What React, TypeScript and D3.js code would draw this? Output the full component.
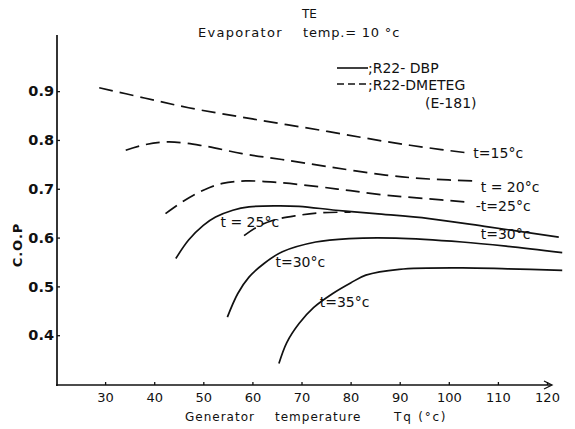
import React, { useEffect, useRef } from 'react';
import * as d3 from 'd3';

// generator temperature (°C) and C.O.P, one pair of arrays per curve
// R22-DMETEG (E-181), dashed
const tgD15 = [28.8, 38, 47, 60, 75, 87, 95, 103.4];
const copD15 = [0.907, 0.886, 0.866, 0.843, 0.818, 0.797, 0.785, 0.774];
const tgD20 = [34.2, 38, 43, 50, 57.9, 66, 75.6, 87.1, 96, 105.5];
const copD20 = [0.779, 0.79, 0.796, 0.788, 0.772, 0.76, 0.745, 0.728, 0.72, 0.716];
const tgD25 = [42.3, 46, 50, 53.9, 58.6, 65, 73.6, 80, 87.1, 95, 103.4];
const copD25 = [0.649, 0.675, 0.697, 0.711, 0.716, 0.713, 0.704, 0.696, 0.687, 0.68, 0.673];
const tgD30 = [58.3, 61, 64.4, 69, 74.2, 80];
const copD30 = [0.604, 0.622, 0.636, 0.645, 0.651, 0.652];
// R22-DBP, solid
const tgS25 = [44.4, 47, 50, 52.5, 56, 59.3, 65, 69.5, 77, 85, 96, 108, 122.4];
const copS25 = [0.557, 0.595, 0.625, 0.642, 0.656, 0.663, 0.665, 0.664, 0.656, 0.649, 0.639, 0.622, 0.601];
const tgS30 = [54.9, 57, 59.3, 62.5, 66.1, 72.9, 79.7, 89.2, 102.7, 112, 123.1];
const copS30 = [0.437, 0.485, 0.519, 0.548, 0.571, 0.591, 0.598, 0.599, 0.591, 0.582, 0.569];
const tgS35 = [65.4, 67, 69.5, 72.5, 76.3, 80, 83.1, 89.9, 102.7, 112, 123.1];
const copS35 = [0.342, 0.385, 0.424, 0.457, 0.485, 0.507, 0.523, 0.535, 0.538, 0.536, 0.533];

const xTicks = [30, 40, 50, 60, 70, 80, 90, 100, 110, 120];
const yTicks = [0.4, 0.5, 0.6, 0.7, 0.8, 0.9];

const curves = [
  { tg: tgD15, cop: copD15, dashed: true },
  { tg: tgD20, cop: copD20, dashed: true },
  { tg: tgD25, cop: copD25, dashed: true },
  { tg: tgD30, cop: copD30, dashed: true },
  { tg: tgS25, cop: copS25, dashed: false },
  { tg: tgS30, cop: copS30, dashed: false },
  { tg: tgS35, cop: copS35, dashed: false },
];

// curve labels, [text, Tg, COP]
const curveLabels: [string, number, number][] = [
  ['t=15°c', 105, 0.774],
  ['t = 20°c', 106.5, 0.704],
  ['-t=25°c', 105.5, 0.664],
  ['t=30°c', 106.5, 0.607],
  ['t = 25°c', 53.5, 0.632],
  ['t=30°c', 64.7, 0.55],
  ['t=35°c', 73.7, 0.467],
];

const FONT = '"DejaVu Sans", sans-serif';

export default function App() {
  const ref = useRef<SVGGElement>(null);

  useEffect(() => {
    const g = d3.select(ref.current);
    g.selectAll('*').remove();

    const x = d3.scaleLinear().domain([20.2, 120]).range([57, 547]);
    const y = d3.scaleLinear().domain([0.298, 1.015]).range([385, 35]);

    // axes
    const xa = g.append('g').attr('transform', 'translate(0,385)')
      .call(d3.axisBottom(x).tickValues(xTicks).tickSize(-3).tickPadding(8).tickFormat(d3.format('d')));
    xa.select('.domain').remove();
    xa.selectAll('text').attr('font-family', FONT).attr('font-size', 13).attr('fill', '#111');
    xa.selectAll('line').attr('stroke', '#111').attr('stroke-width', 1.3);

    const ya = g.append('g').attr('transform', 'translate(57,0)')
      .call(d3.axisLeft(y).tickValues(yTicks).tickSize(-3).tickPadding(3).tickFormat(d3.format('.1f')));
    ya.select('.domain').remove();
    ya.selectAll('text').attr('font-family', FONT).attr('font-size', 14.5).attr('font-weight', 'bold').attr('fill', '#111');
    ya.selectAll('line').attr('stroke', '#111').attr('stroke-width', 1.3);

    g.append('line').attr('x1', 57).attr('x2', 57).attr('y1', y.range()[1]).attr('y2', 386)
      .attr('stroke', '#111').attr('stroke-width', 1.7);
    g.append('line').attr('x1', 56).attr('x2', 551).attr('y1', 385).attr('y2', 385)
      .attr('stroke', '#111').attr('stroke-width', 1.7);
    g.append('path').attr('d', 'M544,381 L552,385 L544,389').attr('fill', 'none')
      .attr('stroke', '#111').attr('stroke-width', 1.3);

    // curves
    const line = d3.line<[number, number]>()
      .x(d => x(d[0])).y(d => y(d[1]))
      .curve(d3.curveCatmullRom.alpha(0.5));
    curves.forEach(c => {
      const pts = c.tg.map((t, i) => [t, c.cop[i]] as [number, number]);
      g.append('path').attr('d', line(pts))
        .attr('fill', 'none').attr('stroke', '#111').attr('stroke-width', 1.7)
        .attr('stroke-dasharray', c.dashed ? '14,7' : null);
    });

    g.selectAll('.clabel').data(curveLabels).enter().append('text')
      .attr('x', d => x(d[1])).attr('y', d => y(d[2]))
      .attr('dy', '0.35em')
      .attr('font-family', FONT).attr('font-size', 14).attr('fill', '#111')
      .text(d => d[0]);

    // legend
    g.append('line').attr('x1', 337).attr('x2', 368).attr('y1', 68).attr('y2', 68)
      .attr('stroke', '#111').attr('stroke-width', 1.6);
    g.append('line').attr('x1', 337).attr('x2', 368).attr('y1', 84).attr('y2', 84)
      .attr('stroke', '#111').attr('stroke-width', 1.6).attr('stroke-dasharray', '7,4');
    const lt = [[';R22- DBP', 368, 73], [';R22-DMETEG', 368, 90], ['(E-181)', 425, 108]];
    lt.forEach(([t, lx, ly]) => {
      g.append('text').attr('x', lx as number).attr('y', ly as number)
        .attr('font-family', FONT).attr('font-size', 14).attr('fill', '#111').text(t as string);
    });

    // titles
    g.append('text').attr('x', 198).attr('y', 37).attr('font-family', FONT).attr('font-size', 13)
      .attr('letter-spacing', 1.3).attr('fill', '#111').text('Evaporator');
    g.append('text').attr('x', 303).attr('y', 37).attr('font-family', FONT).attr('font-size', 13)
      .attr('letter-spacing', 0.8).attr('fill', '#111').text('temp.= 10 °c');
    g.append('text').attr('x', 302).attr('y', 18).attr('font-family', FONT).attr('font-size', 12)
      .attr('fill', '#111').text('TE');

    g.append('text').attr('x', 185).attr('y', 421).attr('font-family', FONT).attr('font-size', 12)
      .attr('letter-spacing', 1).attr('fill', '#111').text('Generator');
    g.append('text').attr('x', 275).attr('y', 421).attr('font-family', FONT).attr('font-size', 12)
      .attr('letter-spacing', 1).attr('fill', '#111').text('temperature');
    g.append('text').attr('x', 394).attr('y', 421).attr('font-family', FONT).attr('font-size', 12)
      .attr('letter-spacing', 1.8).attr('fill', '#111').text('Tq (°c)');

    g.append('text').attr('transform', 'translate(22,245) rotate(-90)')
      .attr('text-anchor', 'middle').attr('font-family', FONT).attr('font-size', 13)
      .attr('font-weight', 'bold').attr('letter-spacing', 1).attr('fill', '#111').text('C.O.P');
  }, []);

  return (
    <svg width={575} height={429} style={{ position: 'absolute', left: 0, top: 0, background: '#fff' }}>
      <g ref={ref} />
    </svg>
  );
}
